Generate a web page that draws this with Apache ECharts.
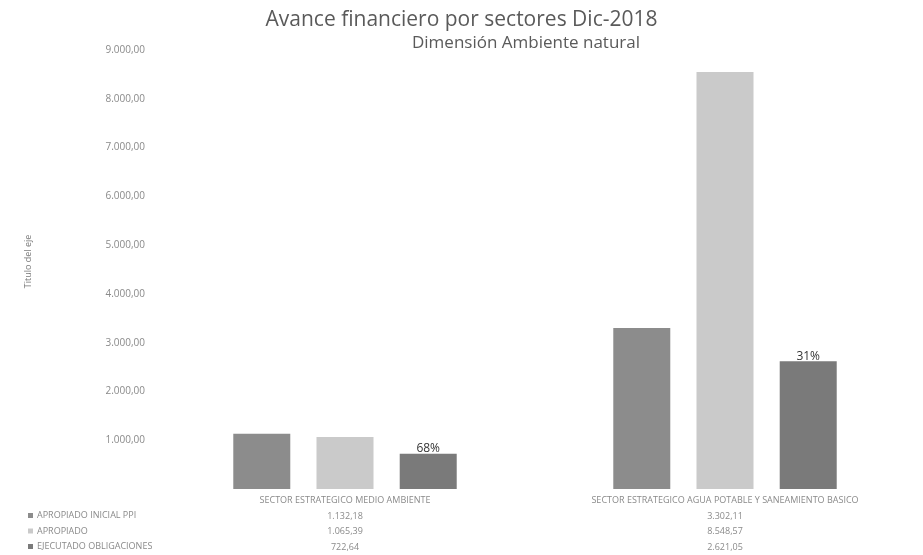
<!DOCTYPE html>
<html>
<head>
<meta charset="utf-8">
<script src="https://cdn.jsdelivr.net/npm/echarts@6/dist/echarts.min.js"></script>
<style>html,body{margin:0;padding:0;background:#fff}#c{width:923px;height:555px}</style>
</head>
<body>
<div id="c"></div>
<script>
const categories = ['SECTOR ESTRATEGICO MEDIO AMBIENTE', 'SECTOR ESTRATEGICO AGUA POTABLE Y SANEAMIENTO BASICO'];
const seriesNames = ['APROPIADO INICIAL PPI', 'APROPIADO', 'EJECUTADO OBLIGACIONES'];
const apropiadoInicial = [1132.18, 3302.11];
const apropiado = [1065.39, 8548.57];
const ejecutado = [722.64, 2621.05];
const pctLabels = ['68%', '31%'];
const yTicks = [0, 1000, 2000, 3000, 4000, 5000, 6000, 7000, 8000, 9000];

const fmt = v => {
  const parts = v.toFixed(2).split('.');
  return parts[0].replace(/\B(?=(\d{3})+(?!\d))/g, '.') + ',' + parts[1];
};
const colors = ['#8c8c8c', '#cacaca', '#7a7a7a'];
const font = '"Open Sans", sans-serif';
const chart = echarts.init(document.getElementById('c'));
const allSeries = [apropiadoInicial, apropiado, ejecutado];
chart.setOption({
  animation: false,
  textStyle: { fontFamily: font },
  title: [
    { text: 'Avance financiero por sectores Dic-2018', left: 'center', top: 5,
      textStyle: { fontSize: 21, fontWeight: 'normal', color: '#5a5a5a', fontFamily: font } },
    { text: 'Dimensión Ambiente natural', left: 521, textAlign: 'center', top: 30,
      textStyle: { fontSize: 17, fontWeight: 'normal', color: '#5a5a5a', fontFamily: font } }
  ],
  legend: seriesNames.map((n, i) => ({
    orient: 'horizontal', left: 28, top: 511 + i * 15.5, itemWidth: 5, itemHeight: 5, itemGap: 0,
    padding: 0, icon: 'rect', textStyle: { fontSize: 9, color: '#8a8a8a', padding: [0, 0, 0, -1] },
    data: [n]
  })),
  grid: { left: 155, right: 8, top: 50, bottom: 62 },
  xAxis: {
    type: 'category', data: categories,
    axisLine: { show: false }, axisTick: { show: false },
    axisLabel: {
      interval: 0, margin: 4, fontSize: 9, color: '#8a8a8a', lineHeight: 15.5,
      formatter: (v, i) => [v, fmt(apropiadoInicial[i]), fmt(apropiado[i]), fmt(ejecutado[i])].join('\n')
    }
  },
  yAxis: {
    type: 'value', min: 0, max: 9000, interval: 1000,
    name: 'Titulo del eje', nameLocation: 'middle', nameGap: 122,
    nameTextStyle: { fontSize: 9, color: '#7a7a7a', padding: [0, 0, 0, 16] },
    axisLine: { show: false }, axisTick: { show: false },
    splitLine: { show: false },
    axisLabel: { fontSize: 10, color: '#8a8a8a', margin: 10, showMinLabel: false, formatter: v => fmt(v) }
  },
  series: allSeries.map((d, si) => ({
    name: seriesNames[si], type: 'bar', data: d,
    barWidth: 57, barGap: '46%',
    itemStyle: { color: colors[si] },
    label: si === 2 ? {
      show: true, position: 'top', distance: -1, fontSize: 12, color: '#333',
      formatter: p => pctLabels[p.dataIndex]
    } : { show: false }
  }))
});
</script>
</body>
</html>
